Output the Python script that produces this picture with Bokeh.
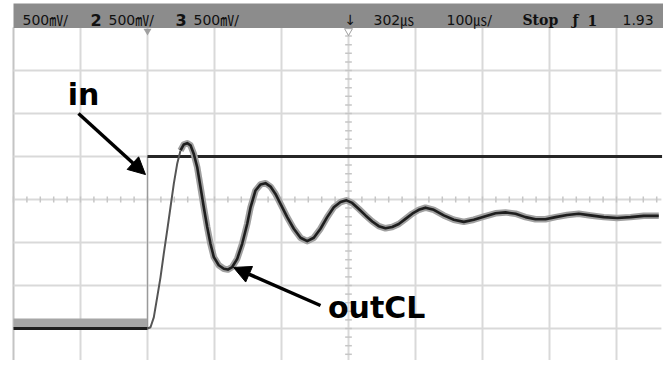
import numpy as np
from bokeh.plotting import figure
from bokeh.models import Range1d, Arrow, NormalHead
from bokeh.core.properties import value
from bokeh.embed import file_html
from bokeh.resources import INLINE

# ---- data (in screen divisions: x = time div, y = volt div) ----
out_t = [-5.0, -3.6, -3.0, -2.955, -2.906, -2.855, -2.806, -2.757, -2.706, -2.657, -2.607,
         -2.557, -2.507, -2.458, -2.407, -2.358, -2.309, -2.258, -2.209, -2.160,
         -2.109, -2.060, -2.010, -1.936, -1.861, -1.801, -1.736, -1.661, -1.587,
         -1.512, -1.463, -1.388, -1.313, -1.239, -1.164, -1.090, -1.015, -0.915,
         -0.816, -0.716, -0.616, -0.518, -0.418, -0.318, -0.219, -0.119, -0.030,
         0.055, 0.154, 0.254, 0.354, 0.452, 0.552, 0.652, 0.751, 0.851, 0.951,
         1.049, 1.149, 1.273, 1.422, 1.572, 1.721, 1.870, 2.019, 2.194, 2.343,
         2.493, 2.642, 2.791, 2.940, 3.090, 3.264, 3.437, 3.612, 3.810, 4.010,
         4.209, 4.407, 4.631]
out_v = [-3.0, -3.0, -3.0, -2.97, -2.74, -2.27, -1.81, -1.26, -0.72, -0.18, 0.37,
         0.83, 1.14, 1.28, 1.31, 1.26, 1.06, 0.75, 0.29, -0.18,
         -0.64, -1.03, -1.34, -1.53, -1.61, -1.63, -1.57, -1.38, -1.03,
         -0.57, -0.19, 0.21, 0.35, 0.38, 0.30, 0.13, -0.10, -0.41,
         -0.68, -0.89, -0.97, -0.89, -0.68, -0.41, -0.18, -0.06, -0.02,
         -0.08, -0.22, -0.37, -0.51, -0.62, -0.67, -0.64, -0.57, -0.45, -0.33,
         -0.24, -0.19, -0.24, -0.37, -0.47, -0.52, -0.47, -0.40, -0.32, -0.30,
         -0.33, -0.41, -0.46, -0.46, -0.41, -0.36, -0.33, -0.37, -0.41, -0.43,
         -0.41, -0.38, -0.38]

in_t = [-5.0, -3.0, -3.0, 4.68]
in_v = [-3.0, -3.0, 1.0, 1.0]
in_noise_top = [-2.77, -2.77]

bar_texts = ["500㎷/", "2", "500㎷/", "3", "500㎷/", "↓", "302㎲", "100㎲/", "Stop", "ƒ", "1", "1.93"]

# ---- figure ----
PXD_X, PXD_Y = 67.0, 43.0
p = figure(width=663, height=360, output_backend="svg", toolbar_location=None,
           x_range=Range1d(-348 / PXD_X, 315 / PXD_X), y_range=Range1d(-161 / PXD_Y, 199 / PXD_Y),
           min_border=0, x_axis_type=None, y_axis_type=None)
p.grid.visible = False
p.outline_line_color = None
p.background_fill_color = "white"
p.border_fill_color = "white"

XR = 4.67
GRID = "#d9d9d9"
# grid
for xv in range(-5, 5):
    p.segment(x0=xv, y0=-3.75, x1=xv, y1=4.0, line_color=GRID if xv != -5 else "#c4c4c4", line_width=2)
for yv in range(-3, 4):
    p.segment(x0=-5.0, y0=yv, x1=XR, y1=yv, line_color=GRID, line_width=2)
# center minor ticks
tx = np.arange(-5.0, XR, 0.2)
p.segment(x0=tx, y0=-0.07, x1=tx, y1=0.07, line_color="#c6c6c6", line_width=1.5)
ty = np.arange(-3.6, 4.0, 0.2)
p.segment(x0=-0.05, y0=ty, x1=0.05, y1=ty, line_color="#c6c6c6", line_width=1.5)

# top status bar
p.quad(left=-5.0, right=4.70, bottom=3.99, top=196 / PXD_Y, fill_color="#8c8c8c", line_color=None)
p.scatter(x=[in_t[1]], y=[3.92], marker="inverted_triangle", size=8, fill_color="#a0a0a0", line_color=None)
p.scatter(x=[0.0], y=[3.92], marker="inverted_triangle", size=8, fill_color="white", line_color="#a0a0a0")

SANS = "'DejaVu Sans', 'Noto Sans CJK JP'"
bx = [22, 90, 108, 175, 193, 344, 373, 446, 522, 572, 587, 622]
for i, t in enumerate(bar_texts):
    xd = (bx[i] - 348) / PXD_X
    if t in ("2", "3"):
        font, style, size = SANS, "bold", "16px"
    elif t in ("Stop", "1", "ƒ"):
        font, style, size = "DejaVu Serif", "bold", "14px"
    else:
        font, style, size = SANS, "normal", "14px"
    p.text(x=[xd], y=[4.17], text=[t], text_font=value(font), text_font_style=style,
           text_font_size=size, text_color="#111111", text_baseline="alphabetic", text_align="left")

# input trace
p.varea(x=[in_t[0], in_t[1]], y1=[in_v[0], in_v[1]], y2=in_noise_top, fill_color="#a6a6a6")
p.line(x=[in_t[1], in_t[2]], y=[in_v[1], in_v[2]], line_color="#9a9a9a", line_width=1.2)
p.line(x=[in_t[2], in_t[3]], y=[in_v[2], in_v[3]], line_color="#262626", line_width=3)

# output trace: fast rising edge drawn thin, rest with gray persistence halo + dark core
RISE_END = 12
p.line(x=out_t[:3], y=out_v[:3], line_color="#1e1e1e", line_width=3)
p.line(x=out_t[2:RISE_END + 1], y=out_v[2:RISE_END + 1], line_color="#555555", line_width=2)
p.line(x=out_t[RISE_END:], y=out_v[RISE_END:], line_color="#a0a0a0", line_width=6.5, line_join="round")
p.line(x=out_t[RISE_END:], y=out_v[RISE_END:], line_color="#1e1e1e", line_width=2.6, line_join="round")

# annotations
p.text(x=[-4.19], y=[2.45], text=["in"], text_font=value("DejaVu Sans"), text_font_style="bold",
       text_font_size="30px", text_color="black", text_baseline="alphabetic")
p.text(x=[-0.306], y=[-2.51], text=["outCL"], text_font=value("DejaVu Sans"), text_font_style="bold",
       text_font_size="30px", text_color="black", text_baseline="alphabetic")
p.add_layout(Arrow(end=NormalHead(size=17, fill_color="black", line_color="black"),
                   x_start=-4.03, y_start=2.0, x_end=-3.03, y_end=0.58,
                   line_color="black", line_width=3.5))
p.add_layout(Arrow(end=NormalHead(size=17, fill_color="black", line_color="black"),
                   x_start=-0.418, y_start=-2.465, x_end=-1.716, y_end=-1.58,
                   line_color="black", line_width=3.5))

open("out.html", "w").write(file_html(p, INLINE))
